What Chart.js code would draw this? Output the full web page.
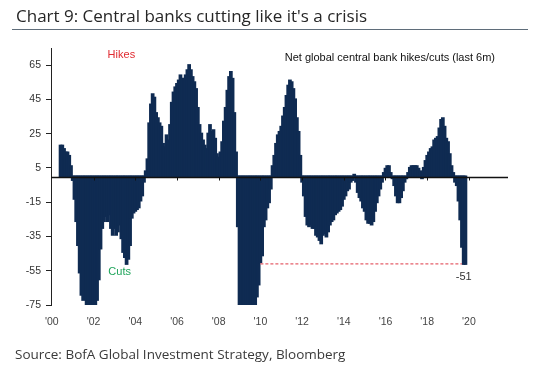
<!DOCTYPE html>
<html>
<head>
<meta charset="utf-8">
<script src="https://cdn.jsdelivr.net/npm/chart.js@4/dist/chart.umd.min.js"></script>
<style>
  body { margin: 0; background: #fff; }
  #wrap { position: relative; width: 542px; height: 374px; overflow: hidden; }
  #chartTitle { position: absolute; left: 16px; top: 7.2px; font: 17px/1 "Open Sans", sans-serif; color: #262626; white-space: nowrap; }
  #rule { position: absolute; left: 12px; top: 29px; width: 516px; height: 1px; background: #5f6d7a; }
  #source { position: absolute; left: 15px; top: 348px; font: 13.5px/1 "Open Sans", sans-serif; color: #3a3a3a; white-space: nowrap; }
  canvas { position: absolute; left: 0; top: 0; }
</style>
</head>
<body>
<div id="wrap">
  <canvas id="myChart" width="542" height="374"></canvas>
  <div id="chartTitle">Chart 9: Central banks cutting like it's a crisis</div>
  <div id="rule"></div>
  <div id="source">Source: BofA Global Investment Strategy, Bloomberg</div>
</div>
<script>
  // monthly categories, Jan 2000 .. Nov 2021
  const months = [];
  for (let yr = 2000; yr <= 2021; yr++) {
    for (let m = 1; m <= 12; m++) {
      const key = yr + '-' + String(m).padStart(2, '0');
      if (key <= '2021-11') months.push(key);
    }
  }

  // net global central bank hikes/cuts (last 6m), one row per year
  const hikesCuts = [
    null, null, null, null, null, 18, 18, 16, 14, 14, 12, 6,           // 2000
    -2, -13, -26, -40, -56, -69, -72, -68, -75, -75, -75, -75,         // 2001
    -75, -75, -72, -60, -42, -30, -26, -23, -26, -22, -30, -34,        // 2002
    -30, -34, -32, -28, -36, -44, -47, -51, -48, -40, -24, -21,        // 2003
    -20, -19, -18, -14, -11, -3, 3, 10, 31, 42, 48, 46,                // 2004
    37, 34, 31, 29, 19, 17, 24, 21, 30, 43, 49, 52,                    // 2005
    54, 56, 59, 57, 57, 59, 62, 65, 62, 58, 55, 51,                    // 2006
    40, 30, 25, 21, 18, 16, 25, 30, 26, 27, 22, 13,                    // 2007
    11, 14, 20, 32, 40, 50, 58, 61, 57, 37, 14, -29,                   // 2008
    -75, -75, -75, -75, -75, -75, -75, -75, -75, -75, -70, -63,        // 2009
    -50, -46, -29, -25, -18, -15, -7, 6, 12, 19, 24, 26,               // 2010
    29, 35, 40, 47, 53, 56, 55, 51, 45, 34, 26, 12,                    // 2011
    -3, -11, -23, -28, -29, -28, -30, -30, -34, -35, -37, -39,         // 2012
    -34, -33, -35, -32, -28, -26, -25, -22, -21, -20, -19, -17,        // 2013
    -13, -11, -8, -7, -3, -2, 1, -3, -9, -12, -14, -18,                // 2014
    -20, -25, -27, -27, -28, -26, -20, -15, -11, -7, -3, 2,            // 2015
    4.5, 6, 6, 2, -1, -5, -11, -15, -15, -12, -8, -3,                  // 2016
    -1, 2, 5, 6, 6, 6, 6, 4.5, 3, -1, 5, 9,                            // 2017
    12, 14, 16, 17, 21, 22, 23, 28, 33, 34, 29, 22,                    // 2018
    20, 13, 6, 2, -3, -5, -14, -25, -41, -51, -51                      // 2019
  ];

  // reference line at the latest reading
  const latestCut = -51;
  const refStart = '2010-01';
  const refEnd = '2019-09';

  const yTicks = [-75, -55, -35, -15, 5, 25, 45, 65];
  const xTickMonths = ['2000-01', '2002-01', '2004-01', '2006-01', '2008-01', '2010-01',
                       '2012-01', '2014-01', '2016-01', '2018-01', '2020-01'];
  const xTickLabels = ["'00", "'02", "'04", "'06", "'08", "'10", "'12", "'14", "'16", "'18", "'20"];

  const notes = [
    { text: 'Hikes', month: '2003-05', value: 71, color: '#e02a30', align: 'center', dy: 0 },
    { text: 'Cuts', month: '2003-04', value: -56, color: '#1fa55b', align: 'center', dy: 0 },
    { text: 'Net global central bank hikes/cuts (last 6m)', month: '2011-03', value: 69.2, color: '#111', align: 'left', dy: 0 },
    { text: '-51', month: '2019-10', value: latestCut, color: '#333', align: 'center', dy: 13 }
  ];

  const refLine = months.map(m => (m >= refStart && m <= refEnd) ? latestCut : null);

  const tickFont = { family: "'Liberation Sans', Arial, sans-serif", size: 10.5 };

  const extras = {
    id: 'extras',
    afterDatasetsDraw(chart) {
      const { ctx, chartArea, scales: { x, y } } = chart;
      const y0 = Math.round(y.getPixelForValue(0)) + 0.5;
      ctx.save();
      ctx.strokeStyle = '#111';
      ctx.lineWidth = 1.3;
      ctx.beginPath();
      ctx.moveTo(chartArea.left, y0);
      ctx.lineTo(chartArea.right, y0);
      ctx.stroke();

      ctx.lineWidth = 1;
      xTickMonths.slice(1).forEach(m => {
        const px = Math.round(x.getPixelForValue(months.indexOf(m))) + 0.5;
        ctx.beginPath();
        ctx.moveTo(px, y0);
        ctx.lineTo(px, y0 + 3);
        ctx.stroke();
      });

      ctx.font = "11px 'Liberation Sans', Arial, sans-serif";
      ctx.textBaseline = 'middle';
      notes.forEach(n => {
        ctx.fillStyle = n.color;
        ctx.textAlign = n.align;
        ctx.fillText(n.text, x.getPixelForValue(months.indexOf(n.month)), y.getPixelForValue(n.value) + n.dy);
      });
      ctx.restore();
    }
  };

  const config = {
    type: 'bar',
    data: {
      labels: months,
      datasets: [
        {
          type: 'line',
          data: refLine,
          borderColor: '#e5606b',
          borderWidth: 1.2,
          borderDash: [3, 2],
          pointRadius: 0,
          fill: false,
          order: 1
        },
        {
          data: hikesCuts,
          backgroundColor: '#0f2b52',
          borderWidth: 0,
          barPercentage: 1,
          categoryPercentage: 1,
          inflateAmount: 1,
          order: 2
        }
      ]
    },
    options: {
      responsive: false,
      animation: false,
      layout: { padding: { top: 48, right: 34, bottom: 0, left: 0 } },
      plugins: { legend: { display: false }, tooltip: { enabled: false } },
      scales: {
        x: {
          grid: { display: false },
          border: { display: false },
          ticks: {
            autoSkip: false,
            maxRotation: 0,
            padding: 3,
            color: '#444',
            font: tickFont,
            callback: (val, i) => {
              const k = xTickMonths.indexOf(months[i]);
              return k >= 0 ? xTickLabels[k] : null;
            }
          },
          afterFit: s => { s.height = 69; }
        },
        y: {
          min: -75,
          max: 75,
          afterBuildTicks: s => { s.ticks = yTicks.map(v => ({ value: v })); },
          grid: { drawOnChartArea: false, drawTicks: true, tickLength: 5, tickColor: '#222' },
          border: { display: true, color: '#222', width: 1 },
          ticks: { padding: 5, color: '#333', font: tickFont },
          afterFit: s => { s.width = 51; }
        }
      }
    },
    plugins: [extras]
  };

  const myChart = new Chart(document.getElementById('myChart'), config);
</script>
</body>
</html>
